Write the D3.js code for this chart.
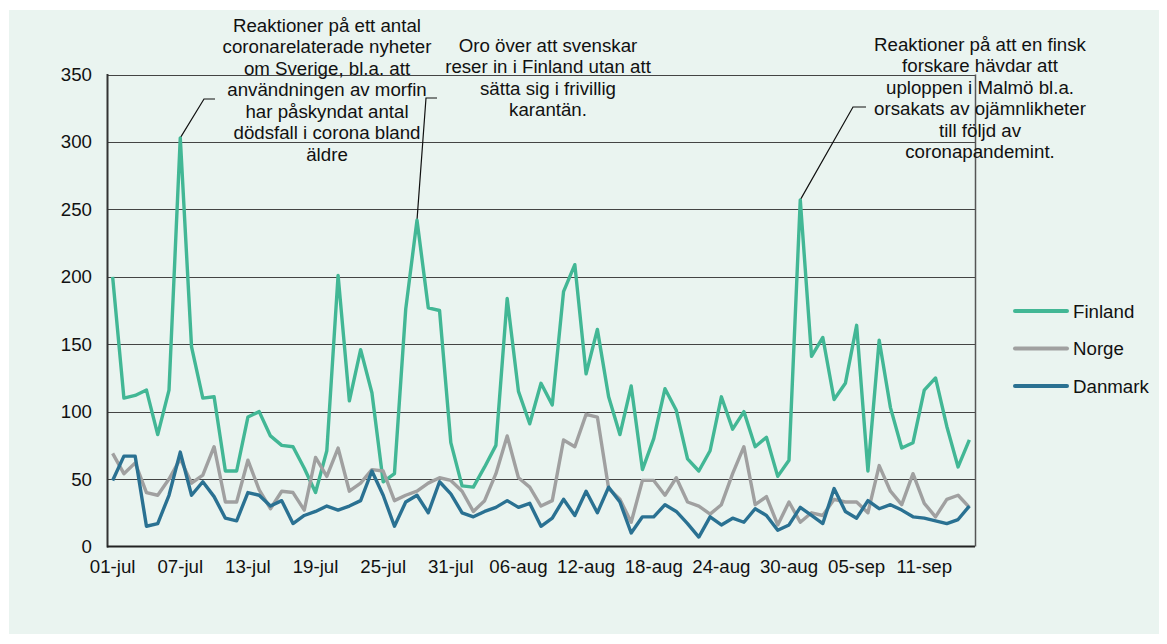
<!DOCTYPE html>
<html>
<head>
<meta charset="utf-8">
<script src="https://cdn.jsdelivr.net/npm/d3@7"></script>
<style>
  body { margin: 0; background: #fff; }
  text { font-family: "Liberation Sans", Arial, sans-serif; }
</style>
</head>
<body>
<div id="chart"></div>
<script>
// daily values 01-jul .. 15-sep
const finland = [200,110,112,116,83,116,303,148,110,111, 56,56,96,100,82,75,74,58,40,71,
  201,108,146,114,48,54,176,242,177,175, 77,45,44,59,75,184,115,91,121,105,
  189,209,128,161,111,83,119,57,80,117, 101,65,56,71,111,87,100,74,81,52,
  64,257,141,155,109,121,164,56,153,103, 73,77,116,125,89,59,79];
const norge = [69,54,62,40,38,50,65,47,53,74, 33,33,64,42,28,41,40,27,66,52,
  73,41,47,57,56,34,38,41,47,51, 49,41,26,34,54,82,51,44,30,34,
  79,74,98,96,43,35,18,49,49,38, 51,33,30,24,31,54,74,31,37,16,
  33,18,25,23,35,33,33,25,60,41, 31,54,32,22,35,38,29];
const danmark = [49,67,67,15,17,38,70,38,48,37, 21,19,40,38,30,34,17,23,26,30,
  27,30,34,56,38,15,33,38,25,48, 39,25,22,26,29,34,29,32,15,21,
  35,23,41,25,44,33,10,22,22,31, 26,17,7,22,16,21,18,28,23,12,
  16,29,23,17,43,26,21,34,28,31, 27,22,21,19,17,20,30];

const tickLabels = ["01-jul","07-jul","13-jul","19-jul","25-jul","31-jul","06-aug",
  "12-aug","18-aug","24-aug","30-aug","05-sep","11-sep"];
const yTicks = [0,50,100,150,200,250,300,350];

const seriesNames = ["Finland","Norge","Danmark"];
const seriesColors = ["#42b795","#a0a0a0","#2a7192"];

// annotations: day index, text lines
const notes = [
  { day: 6, lines: ["Reaktioner på ett antal","coronarelaterade nyheter","om Sverige, bl.a. att",
      "användningen av morfin","har påskyndat antal","dödsfall i corona bland","äldre"],
    cx: 327, top: 25, bend: [204, 99], end: [215, 99] },
  { day: 27, lines: ["Oro över att svenskar","reser in i Finland utan att","sätta sig i frivillig","karantän."],
    cx: 548, top: 45, bend: [426, 98], end: [437, 98] },
  { day: 61, lines: ["Reaktioner på att en finsk","forskare hävdar att","uploppen i Malmö bl.a.",
      "orsakats av ojämnlikheter","till följd av","coronapandemint."],
    cx: 980, top: 44, bend: [853, 107], end: [866, 107] }
];

const W = 1167, H = 644;
const pLeft = 107, pRight = 975, pTop = 74.5, pBottom = 546.5;
const fontSize = "18.7px";

const svg = d3.select("#chart").append("svg").attr("width", W).attr("height", H);

svg.append("rect").attr("x", 9).attr("y", 10).attr("width", 1150).attr("height", 624)
  .attr("fill", "#eaf4f0");

const days = d3.range(finland.length);
const x = d3.scaleBand().domain(days).range([pLeft, pRight]).padding(0);
const cx = (i) => x(i) + x.bandwidth() / 2;
const y = d3.scaleLinear().domain([0, 350]).range([pBottom, pTop]);

// gridlines
svg.append("g")
  .selectAll("line")
  .data(yTicks.filter((d) => d > 0))
  .enter()
  .append("line")
  .attr("x1", pLeft).attr("x2", pRight)
  .attr("y1", (d) => Math.round(y(d)) + 0.5)
  .attr("y2", (d) => Math.round(y(d)) + 0.5)
  .attr("stroke", "#444")
  .attr("stroke-width", 1);

// y axis labels
const yAxis = svg.append("g")
  .attr("transform", "translate(" + pLeft + ",0)")
  .call(d3.axisLeft(y).tickValues(yTicks).tickSize(0).tickPadding(15));
yAxis.select(".domain").remove();
yAxis.selectAll("text").style("font-size", fontSize).attr("fill", "#111");

// x axis labels
const labelFor = {};
tickLabels.forEach((t, k) => (labelFor[k * 6] = t));
const xAxis = svg.append("g")
  .attr("transform", "translate(0," + pBottom + ")")
  .call(d3.axisBottom(x).tickValues(Object.keys(labelFor).map(Number))
    .tickFormat((d) => labelFor[d]).tickSize(0).tickPadding(13));
xAxis.select(".domain").remove();
xAxis.selectAll("text").style("font-size", fontSize).attr("fill", "#111");

// frame: left axis, bottom axis, right border
svg.append("line").attr("x1", pLeft + 0.5).attr("x2", pLeft + 0.5).attr("y1", pTop - 0.5).attr("y2", pBottom + 1)
  .attr("stroke", "#333").attr("stroke-width", 2);
svg.append("line").attr("x1", pLeft).attr("x2", pRight).attr("y1", pBottom).attr("y2", pBottom)
  .attr("stroke", "#222").attr("stroke-width", 2);
svg.append("line").attr("x1", pRight + 0.5).attr("x2", pRight + 0.5).attr("y1", pTop).attr("y2", pBottom)
  .attr("stroke", "#555").attr("stroke-width", 1.5);

// annotation texts and leader lines
notes.forEach((n) => {
  const t = svg.append("text").attr("text-anchor", "middle").style("font-size", fontSize).attr("fill", "#111");
  n.lines.forEach((l, k) => {
    t.append("tspan").attr("x", n.cx).attr("y", n.top + k * 21.5).attr("dy", "0.35em").text(l);
  });
  const val = finland[n.day];
  svg.append("polyline")
    .attr("points", [[cx(n.day), y(val)], n.bend, n.end].map((p) => p.join(",")).join(" "))
    .attr("fill", "none").attr("stroke", "#111").attr("stroke-width", 1.2);
});

// series lines
const line = d3.line().x((d, i) => cx(i)).y((d) => y(d));
[finland, norge, danmark].forEach((s, k) => {
  svg.append("path")
    .datum(s)
    .attr("d", line)
    .attr("fill", "none")
    .attr("stroke", seriesColors[k])
    .attr("stroke-width", 3.4)
    .attr("stroke-linejoin", "round");
});

// legend
const legend = svg.append("g");
seriesNames.forEach((name, k) => {
  const ly = 311 + k * 37.5;
  legend.append("line").attr("x1", 1015).attr("x2", 1067).attr("y1", ly).attr("y2", ly)
    .attr("stroke", seriesColors[k]).attr("stroke-width", 4).attr("stroke-linecap", "round");
  legend.append("text").attr("x", 1073).attr("y", ly).attr("dy", "0.35em")
    .style("font-size", fontSize).attr("fill", "#111").text(name);
});
</script>
</body>
</html>
